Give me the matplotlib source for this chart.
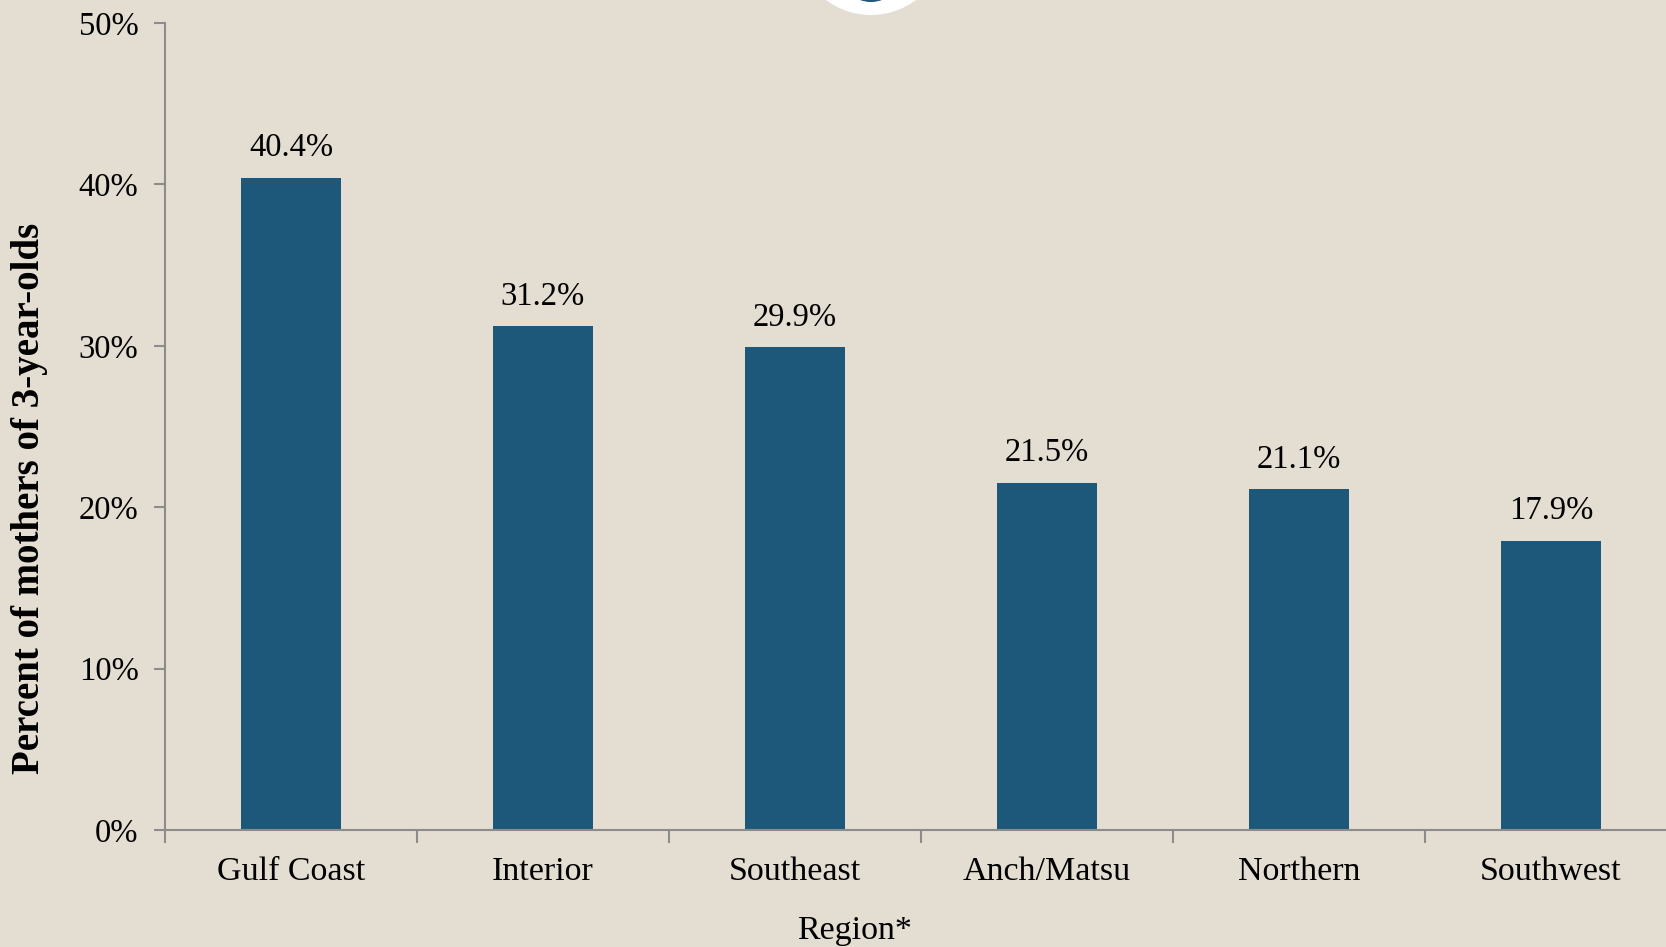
import matplotlib
matplotlib.use("Agg")
import matplotlib.pyplot as plt
from matplotlib.patches import Circle
from matplotlib.ticker import FixedLocator, PercentFormatter

regions = ["Gulf Coast", "Interior", "Southeast", "Anch/Matsu", "Northern", "Southwest"]
percents = [40.4, 31.2, 29.9, 21.5, 21.1, 17.9]

bg = "#e3ddd2"
bar_color = "#1d5779"
axis_color = "#8c8c8c"

plt.rcParams["font.family"] = ["Liberation Serif", "DejaVu Serif"]

W, H = 1666, 947
fig = plt.figure(figsize=(W / 100, H / 100), dpi=100, facecolor=bg)
# axes runs a little past the right edge of the picture
ax = fig.add_axes([165 / W, 1 - 830 / H, 1512 / W, (830 - 23) / H])
ax.set_facecolor(bg)

x = range(len(regions))
ax.bar(x, percents, width=0.4, color=bar_color, zorder=2)
for i, v in enumerate(percents):
    ax.text(i, v + 1.85, "{:.1f}%".format(v), ha="center", va="center", fontsize=23.5)

ax.set_xlim(-0.5, len(regions) - 0.5)
ax.set_ylim(0, 50)
ax.set_yticks(range(0, 51, 10))
ax.yaxis.set_major_formatter(PercentFormatter(decimals=0))

ax.set_xticks([i - 0.5 for i in range(len(regions) + 1)])
ax.set_xticklabels([])
ax.xaxis.set_minor_locator(FixedLocator(list(x)))
ax.set_xticklabels(regions, minor=True)
ax.tick_params(axis="x", which="minor", length=0, labelsize=24.5, pad=19)
ax.tick_params(axis="x", which="major", length=9, width=1.5, color=axis_color)
ax.tick_params(axis="y", length=8, width=1.5, color=axis_color, labelsize=23.5, pad=11)

for side in ["top", "right"]:
    ax.spines[side].set_visible(False)
for side in ["left", "bottom"]:
    ax.spines[side].set_color(axis_color)
    ax.spines[side].set_linewidth(1.5)

ax.set_xlabel("Region*", fontsize=24.5, va="center")
ax.xaxis.set_label_coords((855 - 165) / 1512, -(931 - 830) / 807)
ax.set_ylabel("Percent of mothers of 3-year-olds", fontsize=28, fontweight="bold", va="center")
ax.yaxis.set_label_coords(-(165 - 30) / 1512, (830 - 498) / 807)

# logo cut off at the top
fig.patches.append(Circle((871, H + 60), 75, transform=None, facecolor="white", edgecolor="none"))
fig.patches.append(Circle((871, H + 29), 31, transform=None, facecolor=bar_color, edgecolor="none"))

fig.savefig("out.png", dpi=100, facecolor=bg)
